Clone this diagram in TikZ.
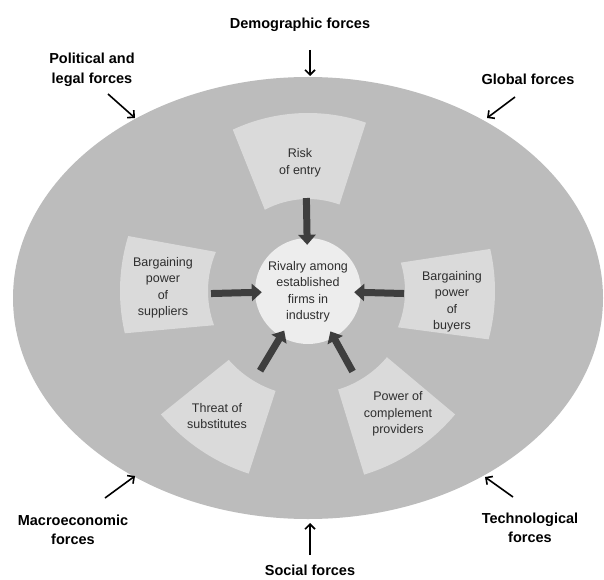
\documentclass[tikz,border=0pt]{standalone}
\usepackage{fontspec}
\setmainfont{Liberation Sans}
\usetikzlibrary{arrows.meta,calc}

\definecolor{outerring}{HTML}{BCBCBC}
\definecolor{sectorfill}{HTML}{DADADA}
\definecolor{corefill}{HTML}{EDEDED}
\definecolor{arrowdark}{HTML}{3E3E3E}
\definecolor{inktext}{HTML}{2E2E2E}

\tikzset{
  forcelabel/.style={font=\fontsize{14.5}{19.5}\selectfont\bfseries, align=center, text=black, inner sep=0pt},
  sectorlabel/.style={font=\fontsize{12.5}{16.5}\selectfont, align=center, text=inktext, inner sep=0pt},
  sectorshape/.style={fill=sectorfill},
  bigarrow/.style={draw=arrowdark, line width=7pt,
    -{Triangle[length=10pt,width=17pt]}, shorten >=-7pt},
  forcearrow/.style={draw=black, line width=1.6pt,
    -{Straight Barb[length=5pt,width=10pt]}}
}

% annular piece around the core: outer arc a1..a2 at radius R, inner arc b1..b2 at radius r
\newcommand{\ringpiece}[6]{%
  \fill[sectorshape] ($(C)+(#1:#3)$) arc[start angle=#1, end angle=#2, radius=#3]
    -- ($(C)+(#5:#6)$) arc[start angle=#5, end angle=#4, radius=#6] -- cycle;}

\begin{document}
\begin{tikzpicture}[x=1pt,y=1pt]
\useasboundingbox (0,0) rectangle (604,579);
\fill[white] (0,0) rectangle (604,579);

% outer environment
\fill[outerring] (308,281) ellipse[x radius=295, y radius=221];

\coordinate (C) at (308,288);

% the five competitive forces
\ringpiece{71}{115}{178}{70}{118}{92}
\ringpiece{163}{193}{188}{157}{200}{100}
\ringpiece{-15}{13}{187}{-22}{17}{97}
\ringpiece{220}{252}{192}{221}{252}{105}
\ringpiece{287}{320}{192}{287}{320}{103}

\node[circle, fill=corefill, minimum size=106pt, inner sep=0pt] (rival) at (C) {};
\node[sectorlabel] (rivaltext) at ($(C)+(0,-1)$)
  {Rivalry among\\established\\firms in\\industry};

\node[sectorlabel] (entry) at (300,416) {Risk\\of entry};
\node[sectorlabel] (suppliers) at (163,291) {Bargaining\\power\\of\\suppliers};
\node[sectorlabel] (buyers) at (452,277) {Bargaining\\power\\of\\buyers};
\node[sectorlabel] (substitutes) at (217,163) {Threat of\\substitutes};
\node[sectorlabel] (complement) at (398,165) {Power of\\complement\\providers};

% inner ends of the heavy arrows
\coordinate (fromentry) at ($(C)+(91:93)$);
\coordinate (fromsupp) at ($(C)+(181.5:97)$);
\coordinate (frombuy) at ($(C)+(-1.5:96)$);
\coordinate (fromsubs) at ($(C)+(239:93)$);
\coordinate (fromcomp) at ($(C)+(299:92)$);

\draw[bigarrow] (fromentry) -- (rival);
\draw[bigarrow] (fromsupp) -- (rival);
\draw[bigarrow] (frombuy) -- (rival);
\draw[bigarrow] (fromsubs) -- (rival);
\draw[bigarrow] (fromcomp) -- (rival);

% macro-environment forces
\node[forcelabel] (demo) at (300,554) {Demographic forces};
\node[forcelabel] (polit) at (92,509) {Political and\\legal forces};
\node[forcelabel] (global) at (528,500) {Global forces};
\node[forcelabel] (macro) at (73,49) {Macroeconomic\\forces};
\node[forcelabel] (tech) at (530,51) {Technological\\forces};
\node[forcelabel] (social) at (310,9) {Social forces};

\coordinate (demoA) at (310,529);  \coordinate (demoB) at (310,503);
\coordinate (politA) at (108,485); \coordinate (politB) at (135,461);
\coordinate (globA) at (515,482);  \coordinate (globB) at (487,461);
\coordinate (macroA) at (105,81);  \coordinate (macroB) at (135,103);
\coordinate (techA) at (513,82);   \coordinate (techB) at (485,102);
\coordinate (socA) at (310,24);    \coordinate (socB) at (310,56);

\draw[forcearrow] (demoA) -- (demoB);
\draw[forcearrow] (politA) -- (politB);
\draw[forcearrow] (globA) -- (globB);
\draw[forcearrow] (macroA) -- (macroB);
\draw[forcearrow] (techA) -- (techB);
\draw[forcearrow] (socA) -- (socB);
\end{tikzpicture}
\end{document}
